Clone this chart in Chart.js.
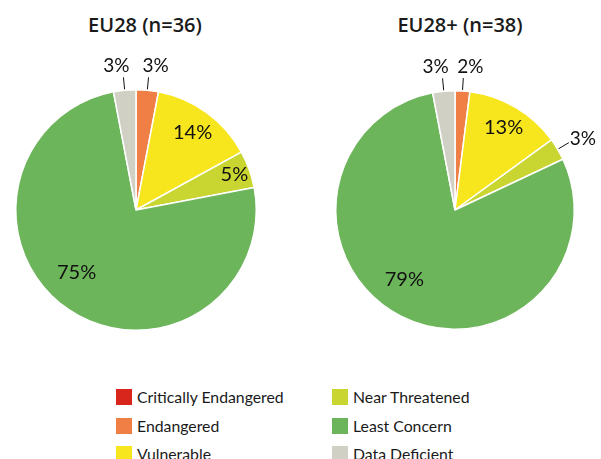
<!DOCTYPE html>
<html><head><meta charset="utf-8">
<script src="https://cdn.jsdelivr.net/npm/chart.js@4/dist/chart.umd.min.js"></script>
<style>
html,body{margin:0;padding:0;background:#fff;}
body{width:601px;height:459px;position:relative;overflow:hidden;font-family:'Lato','Open Sans',sans-serif;color:#1a1a1a;}
canvas{position:absolute;}
.title{position:absolute;top:11px;font-family:'Open Sans','DejaVu Sans',sans-serif;font-weight:600;font-size:20px;text-align:center;width:260px;}
.leg{position:absolute;font-size:15.8px;line-height:20px;white-space:nowrap;}
.leg span{display:inline-block;width:16px;height:16px;vertical-align:-2px;margin-right:5px;}
</style></head>
<body>
<div class="title" style="left:15px">EU28 (n=36)</div>
<div class="title" style="left:330px">EU28+ (n=38)</div>
<canvas id="c1" width="272" height="340" style="left:0;top:0;width:272px;height:340px"></canvas>
<canvas id="c2" width="281" height="340" style="left:320px;top:0;width:281px;height:340px"></canvas>
<div id="legend"></div>
<script>
const categories = ['Critically Endangered','Endangered','Vulnerable','Near Threatened','Least Concern','Data Deficient'];
const colors = ['#d9261c','#ef7f45','#f7e51e','#c9d531','#6cb55b','#d1d0c4'];
const eu28 = [0, 3, 14, 5, 75, 3];
const eu28plus = [0, 2, 13, 3, 79, 3];

const labelPlugin = {
  id: 'pieLabels',
  afterDatasetsDraw(chart) {
    const ctx = chart.ctx;
    const meta = chart.getDatasetMeta(0);
    const data = chart.data.datasets[0].data;
    ctx.save();
    ctx.fillStyle = '#111';
    ctx.strokeStyle = '#111';
    ctx.lineWidth = 1;
    meta.data.forEach((arc, i) => {
      const v = data[i];
      if (!v) return;
      const p = arc.getProps(['x','y','startAngle','endAngle','outerRadius']);
      const mid = (p.startAngle + p.endAngle) / 2;
      const cos = Math.cos(mid), sin = Math.sin(mid);
      const txt = v + '%';
      if (v >= 5) {
        ctx.font = "20px 'Lato',sans-serif";
        ctx.textAlign = 'center'; ctx.textBaseline = 'middle';
        let f = v > 50 ? 0.72 : (v >= 10 ? 0.8 : 0.87);
        let a = mid;
        if (v > 50) a = mid + 0.16;
        ctx.fillText(txt, p.x + Math.cos(a) * p.outerRadius * f, p.y + Math.sin(a) * p.outerRadius * f);
      } else {
        ctx.font = "19px 'Lato',sans-serif";
        const r0 = p.outerRadius + 1, r1 = p.outerRadius + 13;
        const x1 = p.x + cos * r1, y1 = p.y + sin * r1;
        ctx.beginPath();
        ctx.moveTo(p.x + cos * r0, p.y + sin * r0);
        ctx.lineTo(x1, y1);
        ctx.stroke();
        if (Math.abs(cos) < 0.5) {
          ctx.textAlign = 'center'; ctx.textBaseline = 'middle';
          ctx.fillText(txt, x1 + (cos >= 0 ? 7 : -7), y1 - 11);
        } else {
          ctx.textAlign = cos > 0 ? 'left' : 'right'; ctx.textBaseline = 'middle';
          ctx.fillText(txt, x1 + (cos > 0 ? 1 : -1), y1 - 4);
        }
      }
    });
    ctx.restore();
  }
};

function makePie(id, values, pad) {
  return new Chart(document.getElementById(id), {
    type: 'pie',
    data: { labels: categories, datasets: [{ data: values, backgroundColor: colors, borderColor: '#ffffff', borderWidth: 1.5 }] },
    options: {
      responsive: false, animation: false,
      layout: { padding: pad },
      plugins: { legend: { display: false }, tooltip: { enabled: false }, title: { display: false } }
    },
    plugins: [labelPlugin]
  });
}
makePie('c1', eu28, { left: 15, right: 15, top: 89, bottom: 9 });
makePie('c2', eu28plus, { left: 15, right: 26, top: 90, bottom: 10 });

const leg = document.getElementById('legend');
const cols = [116, 332], rows = [387, 416, 444];
categories.forEach((c, i) => {
  const d = document.createElement('div');
  d.className = 'leg';
  d.style.left = cols[Math.floor(i / 3)] + 'px';
  d.style.top = rows[i % 3] + 'px';
  d.innerHTML = '<span style="background:' + colors[i] + '"></span>' + c;
  leg.appendChild(d);
});
</script>
</body></html>
